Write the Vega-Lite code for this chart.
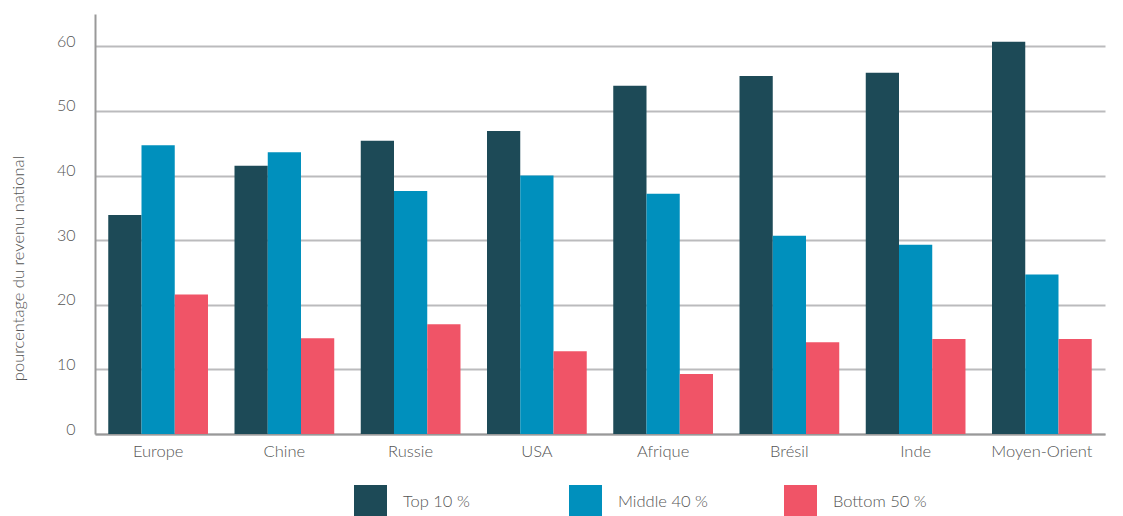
{
  "$schema": "https://vega.github.io/schema/vega-lite/v6.json",
  "width": 1010,
  "height": 420,
  "autosize": {"type": "none"},
  "padding": {"left": 95, "top": 14, "right": 18, "bottom": 82},
  "background": "white",
  "data": {
    "values": [
      {"region": "Europe", "groupe": "Top 10 %", "valeur": 33.9},
      {"region": "Europe", "groupe": "Middle 40 %", "valeur": 44.7},
      {"region": "Europe", "groupe": "Bottom 50 %", "valeur": 21.6},
      {"region": "Chine", "groupe": "Top 10 %", "valeur": 41.5},
      {"region": "Chine", "groupe": "Middle 40 %", "valeur": 43.6},
      {"region": "Chine", "groupe": "Bottom 50 %", "valeur": 14.8},
      {"region": "Russie", "groupe": "Top 10 %", "valeur": 45.4},
      {"region": "Russie", "groupe": "Middle 40 %", "valeur": 37.6},
      {"region": "Russie", "groupe": "Bottom 50 %", "valeur": 17.0},
      {"region": "USA", "groupe": "Top 10 %", "valeur": 46.9},
      {"region": "USA", "groupe": "Middle 40 %", "valeur": 40.0},
      {"region": "USA", "groupe": "Bottom 50 %", "valeur": 12.8},
      {"region": "Afrique", "groupe": "Top 10 %", "valeur": 53.9},
      {"region": "Afrique", "groupe": "Middle 40 %", "valeur": 37.2},
      {"region": "Afrique", "groupe": "Bottom 50 %", "valeur": 9.3},
      {"region": "Brésil", "groupe": "Top 10 %", "valeur": 55.4},
      {"region": "Brésil", "groupe": "Middle 40 %", "valeur": 30.7},
      {"region": "Brésil", "groupe": "Bottom 50 %", "valeur": 14.2},
      {"region": "Inde", "groupe": "Top 10 %", "valeur": 55.9},
      {"region": "Inde", "groupe": "Middle 40 %", "valeur": 29.3},
      {"region": "Inde", "groupe": "Bottom 50 %", "valeur": 14.7},
      {"region": "Moyen-Orient", "groupe": "Top 10 %", "valeur": 60.7},
      {"region": "Moyen-Orient", "groupe": "Middle 40 %", "valeur": 24.7},
      {"region": "Moyen-Orient", "groupe": "Bottom 50 %", "valeur": 14.7}
    ]
  },
  "mark": {"type": "bar"},
  "encoding": {
    "x": {
      "field": "region",
      "type": "nominal",
      "sort": ["Europe", "Chine", "Russie", "USA", "Afrique", "Brésil", "Inde", "Moyen-Orient"],
      "scale": {"paddingInner": 0.21, "paddingOuter": 0.105},
      "axis": {
        "title": null,
        "labelAngle": 0,
        "ticks": false,
        "labelPadding": 9,
        "labelFontSize": 16.5,
        "labelFont": "Lato",
        "labelFontWeight": 300,
        "labelColor": "#555555",
        "domainColor": "#999999",
        "domainWidth": 2
      }
    },
    "xOffset": {
      "field": "groupe",
      "type": "nominal",
      "sort": ["Top 10 %", "Middle 40 %", "Bottom 50 %"],
      "scale": {"paddingInner": 0, "paddingOuter": 0}
    },
    "y": {
      "field": "valeur",
      "type": "quantitative",
      "scale": {"domain": [0, 65], "nice": false},
      "axis": {
        "title": "pourcentage du revenu national",
        "values": [0, 10, 20, 30, 40, 50, 60],
        "ticks": false,
        "labelPadding": 20,
        "labelOffset": -5,
        "labelFontSize": 16,
        "labelFont": "Lato",
        "labelFontWeight": 300,
        "labelColor": "#555555",
        "domainColor": "#999999",
        "domainWidth": 2,
        "grid": true,
        "gridColor": "#bbbbbd",
        "gridWidth": 2,
        "titleFont": "Lato",
        "titleFontWeight": 300,
        "titleFontSize": 16.5,
        "titleColor": "#555555",
        "titleX": -69,
        "titleY": 254,
        "titleAngle": -90
      }
    },
    "color": {
      "field": "groupe",
      "type": "nominal",
      "sort": ["Top 10 %", "Middle 40 %", "Bottom 50 %"],
      "scale": {
        "domain": ["Top 10 %", "Middle 40 %", "Bottom 50 %"],
        "range": ["#1d4a57", "#0090bd", "#f05467"]
      },
      "legend": {
        "title": null,
        "orient": "none",
        "legendX": 259,
        "legendY": 471,
        "direction": "horizontal",
        "columns": 3,
        "gridAlign": "all",
        "symbolType": "square",
        "symbolSize": 1089,
        "symbolStrokeWidth": 0,
        "symbolOpacity": 1,
        "labelOffset": 16,
        "columnPadding": 72,
        "labelFontSize": 16.5,
        "labelFont": "Lato",
        "labelFontWeight": 300,
        "labelColor": "#555555",
        "labelLimit": 200
      }
    }
  },
  "config": {
    "view": {"stroke": null}
  }
}
